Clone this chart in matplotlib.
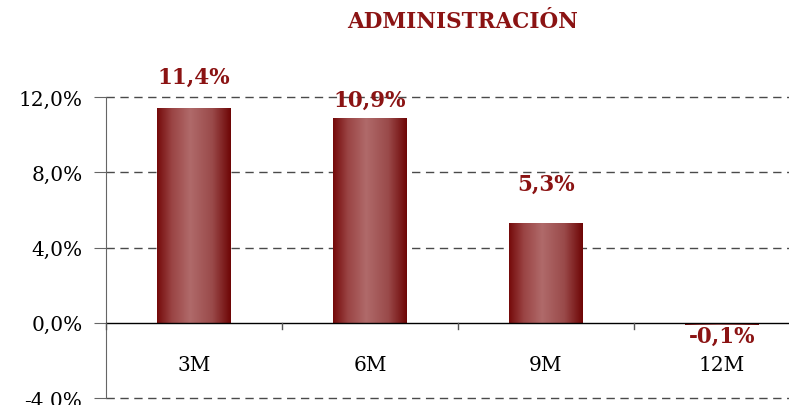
import numpy as np
import matplotlib.pyplot as plt
from matplotlib.colors import LinearSegmentedColormap

# data
categories = ["3M", "6M", "9M", "12M"]
values = [11.4, 10.9, 5.3, -0.1]
value_labels = ["11,4%", "10,9%", "5,3%", "-0,1%"]
label_y = [13.1, 11.85, 7.4, -0.7]   # where the labels sit (in %)
yticks = [-4, 0, 4, 8, 12]
ytick_labels = ["-4,0%", "0,0%", "4,0%", "8,0%", "12,0%"]

dark_red = "#8b1313"
plt.rcParams['font.family'] = ['DejaVu Serif']

fig = plt.figure(figsize=(7.89, 4.06), dpi=100)
W, H = 789, 406
# axes: x from 106 px, y from -4% (399 px) to 12% (98 px)
ax = fig.add_axes([106 / W, (H - 399) / H, (W - 106) / W, (399 - 98) / H])

x = np.arange(len(categories))
bar_w = 0.415
bars = ax.bar(x, values, width=bar_w, color="none", edgecolor="none", zorder=3)

# horizontal gradient inside each bar
cmap = LinearSegmentedColormap.from_list(
    "bar", [(0, "#750a0a"), (0.2, "#9a4444"), (0.45, "#b06a6a"),
            (0.75, "#9a4a4a"), (1, "#6e0505")])
grad = np.linspace(0, 1, 256).reshape(1, -1)
for b in bars:
    x0, y0 = b.get_x(), b.get_y()
    im = ax.imshow(grad, cmap=cmap, aspect="auto", zorder=3,
                   extent=(x0, x0 + b.get_width(), y0, y0 + b.get_height()))
    im.set_clip_path(b)

for xi, lab, ly in zip(x, value_labels, label_y):
    ax.text(xi, ly, lab, ha="center", va="center", fontsize=15.5,
            fontweight="bold", color=dark_red, zorder=5)

ax.set_xlim(-0.5, -0.5 + (W - 106) / 176)
ax.set_ylim(-4, 12)
ax.set_yticks(yticks)
ax.set_yticklabels(ytick_labels, fontsize=14.5)
ax.set_xticks([])
for v in [-4, 4, 8, 12]:
    ax.axhline(v, color="#4a4a4a", lw=1, ls=(0, (6, 4)), zorder=1,
               clip_on=False)
ax.axhline(0, color="black", lw=1, zorder=4)

# category ticks at boundaries, pointing down from zero line
for xb in np.arange(-0.5, len(categories), 1.0):
    ax.plot([xb, xb], [0, -0.35], color="#555555", lw=1, zorder=4,
            clip_on=False)
for xi, c in zip(x, categories):
    ax.text(xi, -2.2, c, ha="center", va="center", fontsize=14.5)

for s in ["top", "right", "bottom"]:
    ax.spines[s].set_visible(False)
ax.spines["left"].set_color("#666666")
ax.tick_params(axis="y", length=9, color="#666666", pad=8)

fig.text(463 / W, 1 - 22 / H, "ADMINISTRACIÓN", ha="center", va="center",
         fontsize=15.5, fontweight="bold", color=dark_red)

fig.savefig("out.png", dpi=100)
